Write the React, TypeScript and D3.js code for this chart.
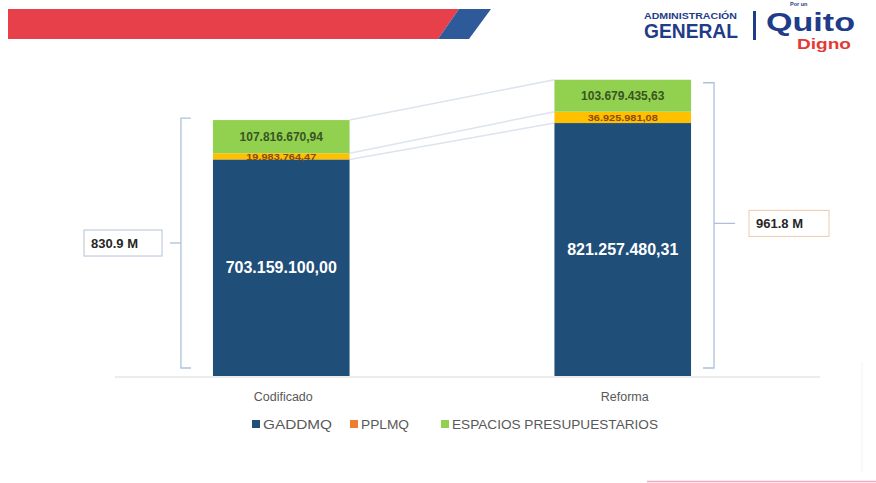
import React from 'react';
import * as d3 from 'd3';

const categories = ['Codificado', 'Reforma'];
const gaddmq = [703159100.0, 821257480.31];
const pplmq = [19983764.47, 36925981.08];
const espacios = [107816670.94, 103679435.63];
const totalLabels = ['830.9 M', '961.8 M'];
const seriesNames = ['GADDMQ', 'PPLMQ', 'ESPACIOS PRESUPUESTARIOS'];

const W = 876;
const H = 483;
const barColors = ['#1F4E79', '#FFC000', '#92D050'];
const legendColors = ['#1F4E79', '#ED7D31', '#92D050'];
const labelColors = ['#FFFFFF', '#8A4A0A', '#375623'];
const labelSizes = [16, 9.5, 12];
const FONT = '"Liberation Sans", Arial, sans-serif';

const locale = d3.formatLocale({ decimal: ',', thousands: '.', grouping: [3], currency: ['', ''] });
const fmt = locale.format(',.2f');

export default function App() {
  const rows = categories.map((c, i) => ({ cat: c, g: gaddmq[i], p: pplmq[i], e: espacios[i] }));
  const keys = ['g', 'p', 'e'];
  const stack = d3.stack<any>().keys(keys)(rows);

  const x = d3.scaleBand<string>().domain(categories).range([110.5, 793.5]).paddingInner(0.6).paddingOuter(0.3);
  const y = d3.scaleLinear().domain([0, 1e9]).range([376, 68]);
  const bw = x.bandwidth();
  const totals = rows.map((r) => r.g + r.p + r.e);

  const x0 = x(categories[0])!;
  const x1 = x(categories[1])!;

  const braceColor = '#AFC1DA';
  const linkColor = '#DDE4EE';

  const lTop = y(totals[0]) - 2;
  const rTop = y(totals[1]) + 3;
  const bBottom = y(0) - 8;
  const lx = x0 - 32;
  const rx = x1 + bw + 23;
  const lMid = (lTop + bBottom) / 2;
  const rMid = (rTop + bBottom) / 2 - 2;

  const legendX = [252, 350, 441];
  const legendLen = [69, 48, 206];

  return (
    <svg width={W} height={H} style={{ position: 'absolute', left: 0, top: 0, background: '#fff' }} fontFamily={FONT}>
      <rect x={0} y={0} width={W} height={H} fill="#ffffff" />
      {/* header banner */}
      <polygon points="8,9 459,9 438,39 8,39" fill="#E8404A" />
      <polygon points="459,9 491,9 469,39 438,39" fill="#2E5A9A" />

      {/* logo */}
      <text x={644} y={19} fontSize={8.5} fontWeight={900} fill="#1F3C88" textLength={93} lengthAdjust="spacingAndGlyphs">ADMINISTRACIÓN</text>
      <text x={644} y={38} fontSize={20} fontWeight={900} fill="#1F3C88" textLength={94} lengthAdjust="spacingAndGlyphs">GENERAL</text>
      <rect x={753} y={11} width={3} height={29} fill="#1F3C88" />
      <text x={766} y={30.5} fontSize={26.5} fontWeight={900} fill="#1F3C88" textLength={89} lengthAdjust="spacingAndGlyphs">Quito</text>
      <text x={790} y={6.3} fontSize={5.5} fontWeight={700} fill="#1F3C88">Por un</text>
      <text x={797} y={49} fontSize={14} fontWeight={900} fill="#E53935" textLength={54} lengthAdjust="spacingAndGlyphs">Digno</text>

      {/* baseline */}
      <line x1={115} x2={820} y1={y(0) + 1} y2={y(0) + 1} stroke="#D9D9D9" strokeWidth={1} />

      {/* connector lines */}
      {stack.map((s, k) => (
        <line key={'lk' + k} x1={x0 + bw} y1={y(s[0][1])} x2={x1} y2={y(s[1][1])} stroke={linkColor} strokeWidth={1.5} />
      ))}

      {/* bars */}
      {stack.map((s, k) =>
        s.map((d, i) => (
          <rect key={'b' + k + i} x={x(categories[i])} y={y(d[1])} width={bw} height={y(d[0]) - y(d[1])} fill={barColors[k]} />
        ))
      )}

      {/* value labels */}
      {stack.map((s, k) =>
        s.map((d, i) => (
          <text
            key={'t' + k + i}
            x={x(categories[i])! + bw / 2}
            y={(y(d[0]) + y(d[1])) / 2 + (k === 1 ? 0.5 : 0)}
            textAnchor="middle"
            dominantBaseline="central"
            fontSize={labelSizes[k]}
            fontWeight={700}
            fill={labelColors[k]}
            textLength={k === 1 ? 70 : undefined}
            lengthAdjust="spacingAndGlyphs"
          >
            {fmt((d.data as any)[keys[k]])}
          </text>
        ))
      )}

      {/* left brace */}
      <path d={`M${lx + 10},${lTop} L${lx},${lTop} L${lx},${bBottom} L${lx + 10},${bBottom}`} fill="none" stroke={braceColor} strokeWidth={1.3} />
      <line x1={lx - 11} x2={lx} y1={lMid} y2={lMid} stroke={braceColor} strokeWidth={1.3} />
      <rect x={84} y={lMid - 13} width={78} height={26} fill="#fff" stroke="#B4C2D6" strokeWidth={1} />
      <text x={91} y={lMid} dominantBaseline="central" fontSize={13} fontWeight={700} fill="#262626">{totalLabels[0]}</text>

      {/* right brace */}
      <path d={`M${rx - 11},${rTop} L${rx},${rTop} L${rx},${bBottom} L${rx - 11},${bBottom}`} fill="none" stroke={braceColor} strokeWidth={1.3} />
      <line x1={rx} x2={rx + 21} y1={rMid} y2={rMid} stroke={braceColor} strokeWidth={1.3} />
      <rect x={749} y={rMid - 13} width={80} height={26} fill="#fff" stroke="#F3C7A8" strokeWidth={1} />
      <text x={756} y={rMid} dominantBaseline="central" fontSize={13} fontWeight={700} fill="#262626">{totalLabels[1]}</text>

      {/* category labels */}
      {categories.map((c) => (
        <text key={c} x={x(c)! + bw / 2 + 2} y={397} textAnchor="middle" dominantBaseline="central" fontSize={12.5} fill="#595959">{c}</text>
      ))}

      {/* legend */}
      {seriesNames.map((n, k) => (
        <g key={n}>
          <rect x={legendX[k]} y={420} width={8} height={8} fill={legendColors[k]} />
          <text x={legendX[k] + 11} y={424.5} dominantBaseline="central" fontSize={13.5} fill="#595959" textLength={legendLen[k]} lengthAdjust="spacingAndGlyphs">{n}</text>
        </g>
      ))}

      {/* decorative right & bottom */}
      <line x1={862} x2={862} y1={362} y2={472} stroke="#F7FAFB" strokeWidth={2} />
      <line x1={647} x2={876} y1={481.5} y2={481.5} stroke="#F2A7BE" strokeWidth={1.5} />
    </svg>
  );
}
